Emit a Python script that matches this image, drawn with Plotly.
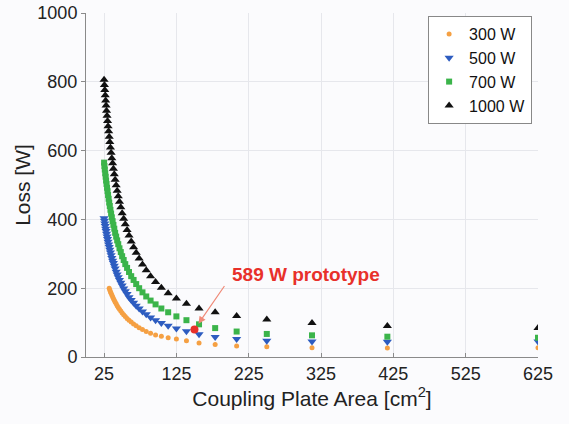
import plotly.graph_objects as go

# Coupling plate area [cm^2]
area = [25.0, 25.5, 26.0, 26.6, 27.2, 27.8, 28.4, 29.1, 29.8, 30.5,
        31.3, 32.1, 32.9, 33.8, 34.7, 35.7, 36.8, 37.9, 39.1, 40.3,
        41.7, 43.1, 44.6, 46.3, 48.1, 50.0, 52.1, 54.3, 56.8, 59.5,
        62.5, 65.8, 69.4, 73.5, 78.1, 83.3, 89.3, 96.2, 104.2, 113.6,
        125.0, 138.9, 156.3, 178.6, 208.3, 250.0, 312.5, 416.7, 625.0]

loss_1000 = [806, 791, 776, 761, 746, 731, 716, 701, 686, 671,
             656, 640, 625, 609, 594, 578, 563, 547, 531, 515,
             499, 483, 467, 451, 435, 418, 402, 386, 369, 353,
             336, 319, 303, 286, 269, 252, 235, 218, 201, 185,
             170, 155, 141, 130, 119, 109, 99, 90, 84]

loss_700 = [565, 555, 545, 534, 524, 513, 503, 492, 482, 471,
            460, 449, 439, 428, 417, 406, 395, 384, 373, 361,
            350, 339, 328, 316, 305, 293, 282, 270, 259, 247,
            235, 224, 212, 200, 188, 176, 164, 153, 141, 130,
            118, 107, 95, 84, 74, 67, 63, 59, 56]

loss_500 = [403, 396, 388, 381, 373, 366, 358, 350, 343, 335,
            327, 320, 312, 304, 296, 288, 280, 273, 265, 257,
            248, 240, 232, 224, 216, 208, 199, 191, 183, 174,
            166, 158, 149, 141, 132, 124, 115, 107, 99, 91,
            83, 75, 66, 58, 52, 47, 45, 44, 45]

area_300 = area[11:]
loss_300 = [200, 195, 190, 185, 180, 175, 170, 165, 160, 155,
            149, 144, 139, 134, 128, 123, 118, 112, 107, 102,
            96, 91, 85, 80, 74, 69, 64, 60, 56, 52,
            47, 41, 36, 32, 30, 27, 26, 27]

proto_area = [150]
proto_loss = [80]

x_ticks = [25, 125, 225, 325, 425, 525, 625]
y_ticks = [0, 200, 400, 600, 800, 1000]

FONT = "Liberation Sans, Arial, Helvetica, sans-serif"

fig = go.Figure()
fig.add_trace(go.Scatter(x=area_300, y=loss_300, mode="markers", name="300 W",
                         marker=dict(symbol="circle", size=5, color="#f5a043", line=dict(width=0))))
fig.add_trace(go.Scatter(x=area, y=loss_500, mode="markers", name="500 W",
                         marker=dict(symbol="triangle-down", size=8, color="#2d5cc0", line=dict(width=0))))
fig.add_trace(go.Scatter(x=area, y=loss_700, mode="markers", name="700 W",
                         marker=dict(symbol="square", size=6, color="#3bb44a", line=dict(width=0))))
fig.add_trace(go.Scatter(x=area, y=loss_1000, mode="markers", name="1000 W",
                         marker=dict(symbol="triangle-up", size=8, color="#111111", line=dict(width=0))))
fig.add_trace(go.Scatter(x=proto_area, y=proto_loss, mode="markers", showlegend=False,
                         marker=dict(symbol="circle", size=8, color="#e8302a", line=dict(width=0))))

fig.add_annotation(x=proto_area[0], y=proto_loss[0], text="", showarrow=True,
                   ax=31, ay=-45, arrowhead=2, arrowsize=1.2, arrowwidth=1.2,
                   arrowcolor="#f08a78", standoff=7)
fig.add_annotation(x=199, y=241, xanchor="left", yanchor="middle", showarrow=False,
                   text="<b>589 W prototype</b>",
                   font=dict(family=FONT, size=19, color="#e8302a"))

fig.update_layout(
    width=569, height=424, autosize=False,
    margin=dict(l=86, r=31, t=13, b=67),
    paper_bgcolor="#fbfbfd", plot_bgcolor="#fbfbfd",
    font=dict(family=FONT, size=18, color="#222222"),
    showlegend=True,
    legend=dict(x=0.987, y=0.991, xanchor="right", yanchor="top",
                bgcolor="#ffffff", bordercolor="#888888", borderwidth=1,
                font=dict(family=FONT, size=16, color="#111111"),
                tracegroupgap=0, itemwidth=30),
)
fig.update_xaxes(range=[0, 625], tickvals=x_ticks, ticktext=[str(v) for v in x_ticks],
                 automargin=False,
                 showgrid=True, gridcolor="#e6e7ec", gridwidth=1, zeroline=False,
                 showline=True, linecolor="#8a8a8a", linewidth=1,
                 ticks="inside", ticklen=4, tickcolor="#8a8a8a",
                 tickfont=dict(size=18, color="#222222"),
                 title=dict(text="Coupling Plate Area [cm<sup>2</sup>]", standoff=8,
                            font=dict(size=21, color="#222222")))
fig.update_yaxes(range=[0, 1000], tickvals=y_ticks,
                 automargin=False,
                 showgrid=True, gridcolor="#e6e7ec", gridwidth=1, zeroline=False,
                 showline=True, linecolor="#8a8a8a", linewidth=1,
                 ticks="outside", ticklen=4, tickcolor="#8a8a8a",
                 tickfont=dict(size=18, color="#222222"),
                 title=dict(text="Loss [W]", standoff=1, font=dict(size=21, color="#222222")))

fig.write_html("out.html")
